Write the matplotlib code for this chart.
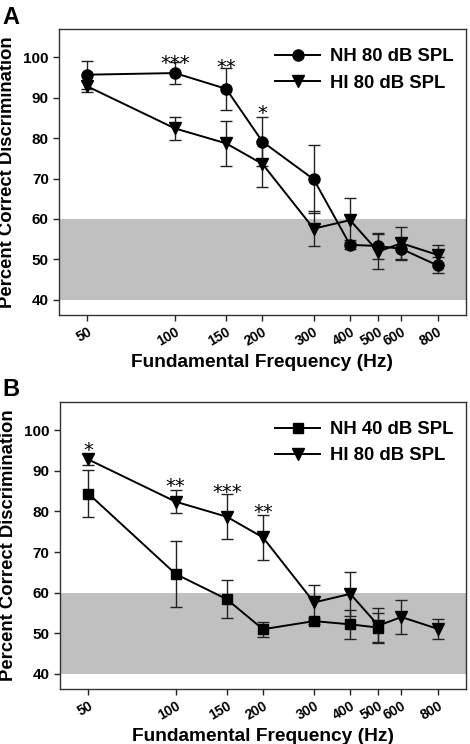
import matplotlib
matplotlib.use("Agg")
import matplotlib.pyplot as plt

plt.rcParams['font.family'] = ['Liberation Sans', 'DejaVu Sans']
plt.rcParams['font.weight'] = 'bold'

# data
freqs = [50, 100, 150, 200, 300, 400, 500, 600, 800]
tick_labels = ["50", "100", "150", "200", "300", "400", "500", "600", "800"]

nh80 = [95.7, 96.1, 92.2, 79.1, 69.8, 53.6, 53.3, 52.6, 48.5]
nh80_err = [3.5, 2.8, 5.2, 6.1, 8.4, 1.1, 3.3, 2.6, 2.0]

hi80 = [92.8, 82.4, 78.7, 73.6, 57.6, 59.7, 51.9, 54.0, 51.1]
hi80_err = [1.3, 2.8, 5.5, 5.6, 4.3, 5.5, 4.3, 4.1, 2.4]

nh40 = [84.4, 64.6, 58.4, 51.0, 53.0, 52.2, 51.4]
nh40_err = [5.8, 8.1, 4.7, 1.8, 0.8, 3.5, 3.5]

# significance stars: (freq, text, y of star centre)
stars_a = [(100, "***", 100.1), (150, "**", 98.9), (200, "*", 87.6)]
stars_b = [(50, "*", 96.6), (100, "**", 87.7), (150, "***", 86.2), (200, "**", 81.3)]

fig = plt.figure(figsize=(4.7, 7.44), dpi=100)
ax_a = fig.add_axes([0.126, 0.577, 0.865, 0.384])
ax_b = fig.add_axes([0.128, 0.074, 0.863, 0.386])


def draw_series(ax, x, y, err, marker, ms):
    eb = ax.errorbar(x, y, yerr=err, color='black', ecolor='#222222', elinewidth=1.0,
                     capsize=4.5, capthick=1.0, lw=1.4, marker=marker, ms=ms,
                     mfc='black', mec='black', zorder=3)
    return eb[0]


def style_axis(ax, stars, handles, labels):
    ax.set_xscale('log')
    ax.set_xlim(40, 1000)
    ax.set_ylim(36.3, 107)
    ax.axhspan(40, 60, color='#c0c0c0', lw=0, zorder=0)
    ax.set_xticks(freqs)
    ax.set_xticklabels(tick_labels, rotation=30, ha='right', rotation_mode='anchor',
                       fontsize=10, fontweight='bold')
    ax.minorticks_off()
    ax.set_yticks([40, 50, 60, 70, 80, 90, 100])
    ax.tick_params(axis='y', labelsize=11, length=4, width=1, colors='#222222',
                   labelcolor='black')
    ax.tick_params(axis='x', length=4, width=1, colors='#222222', labelcolor='black', pad=3)
    for s in ax.spines.values():
        s.set_color('#333333')
        s.set_linewidth(1.0)
    ax.set_ylabel("Percent Correct Discrimination", fontsize=13.3, fontweight='bold', labelpad=5)
    ax.set_xlabel("Fundamental Frequency (Hz)", fontsize=13.8, fontweight='bold', labelpad=4)
    for f, txt, y in stars:
        ax.annotate(txt, (f, y), xytext=(0, -8.4), textcoords='offset points',
                    ha='center', va='baseline', fontsize=14, fontweight='normal',
                    family='DejaVu Sans')
    leg = ax.legend(handles, labels, loc='upper right', frameon=False, fontsize=13.3,
                    handlelength=2.4, handletextpad=0.55, borderaxespad=0.2,
                    labelspacing=0.5, bbox_to_anchor=(0.997, 0.971))
    for t in leg.get_texts():
        t.set_fontweight('bold')


# Panel A
h1 = draw_series(ax_a, freqs, nh80, nh80_err, 'o', 8)
h2 = draw_series(ax_a, freqs, hi80, hi80_err, 'v', 8.5)
style_axis(ax_a, stars_a, [h1, h2], ["NH 80 dB SPL", "HI 80 dB SPL"])

# Panel B
h3 = draw_series(ax_b, freqs[:len(nh40)], nh40, nh40_err, 's', 7.2)
h4 = draw_series(ax_b, freqs, hi80, hi80_err, 'v', 8.5)
style_axis(ax_b, stars_b, [h3, h4], ["NH 40 dB SPL", "HI 80 dB SPL"])

fig.text(0.006, 0.992, "A", fontsize=17, fontweight='bold', va='top', ha='left')
fig.text(0.006, 0.492, "B", fontsize=17, fontweight='bold', va='top', ha='left')

fig.savefig("out.png", dpi=100)
